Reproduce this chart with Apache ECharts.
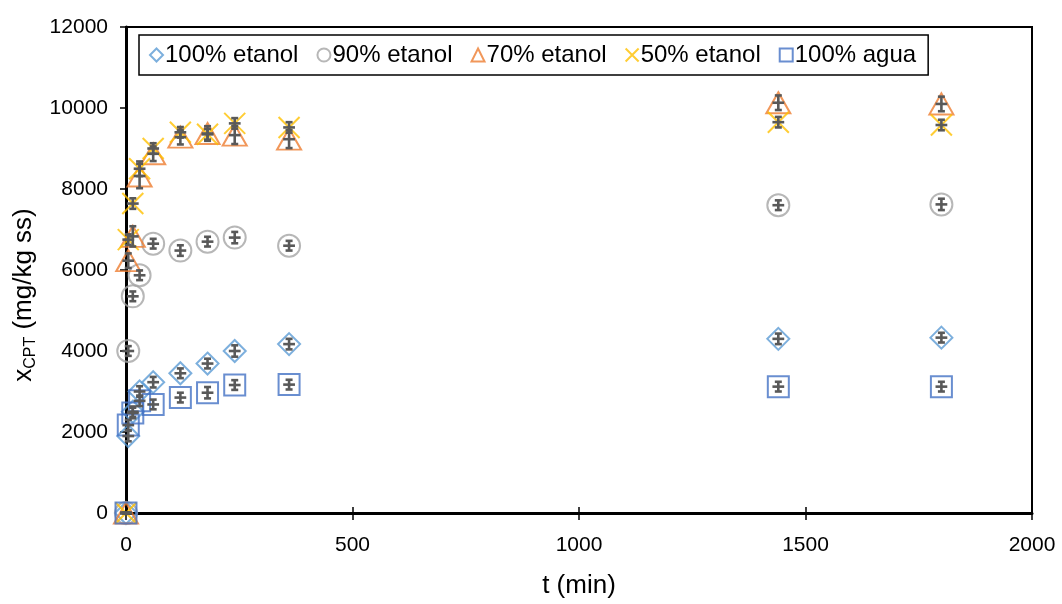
<!DOCTYPE html>
<html>
<head>
<meta charset="utf-8">
<script src="https://cdn.jsdelivr.net/npm/echarts@6/dist/echarts.min.js"></script>
<style>
  html, body { margin: 0; padding: 0; background: #fff; }
  #chart { width: 1062px; height: 604px; }
</style>
</head>
<body>
<div id="chart"></div>
<script>
const FONT = 'Liberation Sans, Arial, sans-serif';

// tiempos de muestreo (min)
const times = [0, 5, 15, 30, 60, 120, 180, 240, 360, 1440, 1800];

// x_CPT (mg/kg ss) por disolvente
const etanol100 = [0, 1900, 2500, 3000, 3230, 3450, 3690, 4000, 4170, 4300, 4330];
const etanol90 = [0, 4000, 5350, 5870, 6650, 6480, 6700, 6800, 6600, 7600, 7620];
const etanol70 = [0, 6230, 6830, 8320, 8870, 9280, 9370, 9330, 9230, 10130, 10100];
const etanol50 = [0, 6750, 7640, 8500, 9000, 9400, 9350, 9620, 9520, 9650, 9580];
const agua100 = [0, 2170, 2470, 2770, 2680, 2850, 2970, 3160, 3170, 3120, 3120];

// barras de error (desviacion, mismas unidades)
const err100 = [0, 130, 130, 130, 130, 120, 120, 140, 130, 130, 120];
const err90 = [0, 120, 120, 120, 120, 130, 120, 140, 120, 120, 140];
const err70 = [0, 180, 250, 300, 180, 180, 180, 220, 220, 180, 180];
const err50 = [0, 130, 130, 180, 130, 130, 130, 130, 130, 130, 130];
const errAgua = [0, 130, 130, 130, 120, 120, 140, 120, 120, 120, 120];
const xErr = 13; // min

const names = ['100% etanol', '90% etanol', '70% etanol', '50% etanol', '100% agua'];
const colors = ['#5B9BD5', '#A5A5A5', '#ED7D31', '#FFC000', '#4472C4'];
const symbols = ['diamond', 'circle', 'triangle', 'path://M0,0 L10,10 M10,0 L0,10', 'rect'];
const sizes = [22, 22, [24, 21], 21, 21];
const values = [etanol100, etanol90, etanol70, etanol50, agua100];
const errors = [err100, err90, err70, err50, errAgua];

const xTicks = [0, 500, 1000, 1500, 2000];
const yTicks = [0, 2000, 4000, 6000, 8000, 10000, 12000];

function renderErr(params, api) {
    const x = api.value(0), y = api.value(1), e = api.value(2);
    const lo = api.coord([x, y - e]);
    const hi = api.coord([x, y + e]);
    const l = api.coord([x - xErr, y]);
    const r = api.coord([x + xErr, y]);
    const cap = 3.5;
    const shapes = [
        { x1: lo[0], y1: lo[1], x2: hi[0], y2: hi[1] },
        { x1: hi[0] - cap, y1: hi[1], x2: hi[0] + cap, y2: hi[1] },
        { x1: lo[0] - cap, y1: lo[1], x2: lo[0] + cap, y2: lo[1] },
        { x1: l[0], y1: l[1], x2: r[0], y2: r[1] },
    ];
    return {
        type: 'group',
        children: shapes.map(s => ({
            type: 'line', shape: s,
            style: { stroke: '#595959', lineWidth: 2.6 }
        }))
    };
}

const series = [];
names.forEach((n, i) => {
    series.push({
        name: n,
        type: 'scatter',
        symbol: symbols[i],
        symbolSize: sizes[i],
        itemStyle: { color: 'transparent', borderColor: colors[i], borderWidth: 2 },
        data: times.map((t, k) => [t, values[i][k]]),
        z: 3
    });
});
names.forEach((n, i) => {
    series.push({
        type: 'custom',
        renderItem: renderErr,
        data: times.map((t, k) => [t, values[i][k], errors[i][k]]),
        z: 4,
        silent: true
    });
});

const chart = echarts.init(document.getElementById('chart'), null, { renderer: 'canvas' });
chart.setOption({
    animation: false,
    textStyle: { fontFamily: FONT },
    grid: {
        left: 126, right: 30, top: 27, bottom: 88,
        show: true, borderColor: '#000', borderWidth: 2
    },
    legend: {
        data: names,
        left: 139, top: 35,
        padding: [8, 12, 8, 10],
        borderColor: '#000', borderWidth: 1.5,
        itemGap: 18,
        itemWidth: 13, itemHeight: 13,
        textStyle: { fontSize: 24, color: '#000', fontFamily: FONT, padding: [0, 0, 0, -3] }
    },
    xAxis: [{
        type: 'value',
        min: xTicks[0], max: xTicks[xTicks.length - 1], interval: 500,
        name: 't (min)',
        nameLocation: 'middle',
        nameGap: 60,
        nameTextStyle: { fontSize: 26, color: '#000', fontFamily: FONT },
        axisLine: { lineStyle: { color: '#000', width: 3 } },
        axisTick: { length: 7, lineStyle: { color: '#000', width: 1.5 } },
        axisLabel: { fontSize: 21, color: '#000', margin: 22, fontFamily: FONT, formatter: v => String(v) },
        splitLine: { show: false }
    }, {
        type: 'value',
        min: xTicks[0], max: xTicks[xTicks.length - 1], interval: 500,
        position: 'bottom',
        axisLine: { show: false },
        axisTick: { inside: true, length: 6, lineStyle: { color: '#000', width: 1.5 } },
        axisLabel: { show: false },
        splitLine: { show: false }
    }],
    yAxis: {
        type: 'value',
        min: yTicks[0], max: yTicks[yTicks.length - 1], interval: 2000,
        name: '{a|x}{s|CPT}{a| (mg/kg ss)}',
        nameLocation: 'middle',
        nameRotate: 90,
        nameGap: 86,
        nameTextStyle: {
            padding: [0, 50, 0, 0],
            rich: {
                a: { fontSize: 26, color: '#000', fontFamily: FONT },
                s: { fontSize: 16, color: '#000', fontFamily: FONT, padding: [14, 0, 0, 0] }
            }
        },
        axisLine: { show: true, lineStyle: { color: '#000', width: 3 } },
        axisTick: { show: true, length: 6, lineStyle: { color: '#000', width: 1.5 } },
        axisLabel: { fontSize: 21, color: '#000', margin: 18, fontFamily: FONT, formatter: v => String(v) },
        splitLine: { show: false }
    },
    series: series
});
</script>
</body>
</html>
